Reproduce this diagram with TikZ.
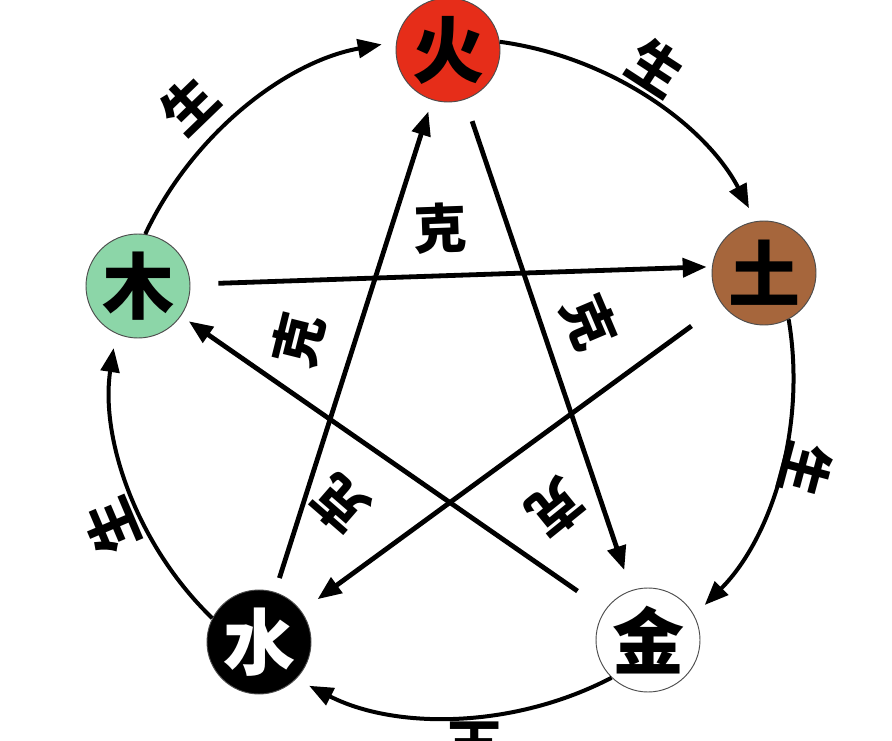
\documentclass[tikz,border=0pt]{standalone}
\usepackage{fontspec}
\newfontfamily\cjk{Noto Sans CJK SC}
\usetikzlibrary{arrows.meta}
\definecolor{huoc}{RGB}{230,45,25}
\definecolor{tuc}{RGB}{166,102,60}
\definecolor{muc}{RGB}{140,214,168}
\begin{document}
\begin{tikzpicture}[x=0.75pt,y=-0.75pt,
  elem/.style={circle,draw=black!70,line width=0.7pt,minimum size=78pt,inner sep=0pt,
    font=\cjk\bfseries\fontsize{54}{54}\selectfont},
  lbl/.style={font=\cjk\bfseries\fontsize{40}{40}\selectfont,inner sep=0pt},
  tip/.style={-{Triangle[length=18pt,width=14pt]}},
  sheng/.style={tip,line width=3pt,shorten >=11pt},
  ke/.style={tip,line width=3.6pt}]
\useasboundingbox (0,0) rectangle (892,741);
\clip (0,0) rectangle (892,741);
\fill[white] (0,0) rectangle (892,741);
% elements
\node[elem,fill=huoc] (huo) at (448,50) {火};
\node[elem,fill=tuc] (tu) at (764,273) {土};
\node[elem,fill=white] (jin) at (648,640) {金};
\node[elem,fill=black,text=white] (shui) at (259,642) {水};
\node[elem,fill=muc] (mu) at (138,286) {木};
% generating cycle
\draw[sheng] (mu.82.6) to[bend left=27.3,looseness=0.9] (huo.171.5);
\draw[sheng] (huo.9.5) to[bend left=27.3,looseness=0.9] (tu.99.5);
\draw[sheng] (tu.-62.5) to[bend left=27.3,looseness=0.9] (jin.28);
\draw[sheng] (jin.-134) to[bend left=27.3,looseness=0.9] (shui.-45);
\draw[sheng] (shui.153) to[bend left=27.3,looseness=0.9] (mu.-115.4);
% controlling star
\draw[ke,shorten <=17pt,shorten >=16pt] (huo) -- (jin);
\draw[ke,shorten <=21pt,shorten >=43pt] (mu) -- ([yshift=6pt]tu.center);
\draw[ke,shorten <=25pt,shorten >=7pt] (jin) -- (mu);
\draw[ke,shorten <=28pt,shorten >=15pt] (tu) -- (shui);
\draw[ke,shorten <=11pt,shorten >=9pt] (shui) -- (huo);
% labels
\node[lbl,rotate=44] (s1) at (189,105) {生};
\node[lbl,rotate=-33] (s2) at (656,67) {生};
\node[lbl,rotate=-105] (s3) at (806,470) {生};
\node[lbl,rotate=180] (s4) at (475,746) {生};
\node[lbl,rotate=113] (s5) at (112,526) {生};
\node[lbl,rotate=2] (k1) at (440,228) {克};
\node[lbl,rotate=-67] (k2) at (590,322) {克};
\node[lbl,rotate=-141] (k3) at (556,508) {克};
\node[lbl,rotate=139] (k4) at (340,504) {克};
\node[lbl,rotate=76] (k5) at (298,340) {克};
\end{tikzpicture}
\end{document}
